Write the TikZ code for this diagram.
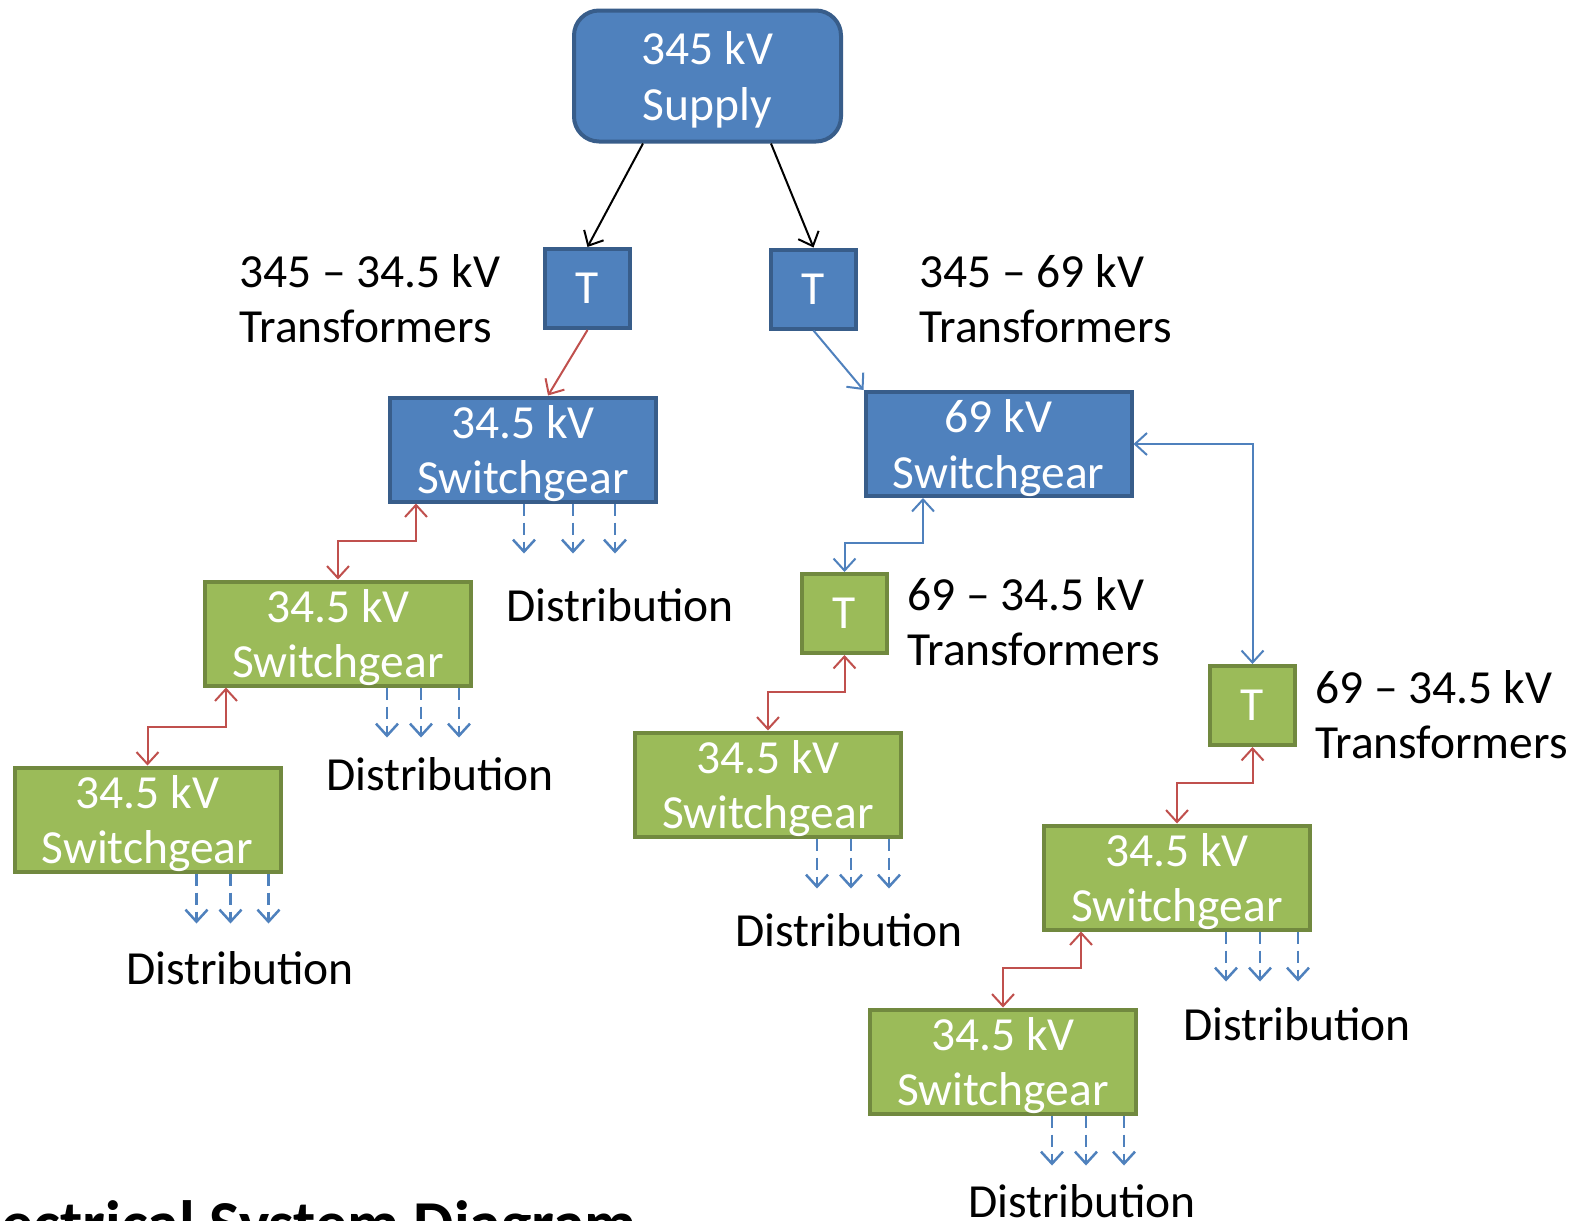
\documentclass[tikz,border=0pt]{standalone}
\usepackage{fontspec}
\setmainfont{Carlito}
\usetikzlibrary{arrows.meta,calc}
\definecolor{bfill}{HTML}{4F81BD}
\definecolor{bdraw}{HTML}{385D8A}
\definecolor{gfill}{HTML}{9BBB59}
\definecolor{gdraw}{HTML}{71893F}
\definecolor{redarr}{HTML}{C0504D}
\definecolor{bluearr}{HTML}{4F81BD}
\begin{document}
\begin{tikzpicture}[x=1pt,y=-1pt,
  >={Straight Barb[length=12pt,width=22pt]},
  bigfont/.style={font=\fontsize{47.5}{55.5}\selectfont},
  bbox/.style={draw=bdraw, fill=bfill, line width=4pt, text=white, bigfont, align=center, inner sep=0pt},
  gbox/.style={draw=gdraw, fill=gfill, line width=4pt, text=white, bigfont, align=center, inner sep=0pt},
  sgsize/.style={minimum width=266pt, minimum height=104pt, text depth=0pt},
  tsize/.style={minimum width=85pt, minimum height=79pt},
  lbl/.style={bigfont, align=left, anchor=base west, inner sep=0pt},
  dlbl/.style={bigfont, anchor=base, inner sep=0pt},
  conn/.style={line width=2pt},
  dist/.style={line width=2.5pt, draw=bluearr, dash pattern=on 12pt off 7pt, ->}
]
\useasboundingbox (0,0) rectangle (1591,1221);
\clip (0,0) rectangle (1591,1221);
\fill[white] (0,0) rectangle (1591,1221);

% nodes
\node[bbox, rounded corners=25pt, minimum width=267pt, minimum height=131pt, text depth=0pt] (sup) at (707.5,76) {345 kV\\Supply};
\node[bbox,tsize] (t1) at (587.5,288.5) {T};
\node[bbox,tsize] (t2) at (813.5,289) {T};
\node[bbox,sgsize] (sgb) at (523,449.5) {34.5 kV\\Switchgear};
\node[bbox,sgsize] (sg69) at (998.5,444) {69 kV\\Switchgear};
\node[gbox,sgsize] (g1) at (338,633.5) {34.5 kV\\Switchgear};
\node[gbox,sgsize] (g2) at (147.5,819.5) {34.5 kV\\Switchgear};
\node[gbox,tsize] (t3) at (844.5,613.5) {T};
\node[gbox,tsize] (t4) at (1252.5,705.5) {T};
\node[gbox,sgsize] (g3) at (768,784.5) {34.5 kV\\Switchgear};
\node[gbox,sgsize] (g4) at (1177,877.5) {34.5 kV\\Switchgear};
\node[gbox,sgsize] (g5) at (1003,1061.5) {34.5 kV\\Switchgear};

% labels (base anchor = last line's baseline)
\node[lbl] (l1) at (239,342.5) {345 – 34.5 kV\\Transformers};
\node[lbl] (l2) at (919,342.5) {345 – 69 kV\\Transformers};
\node[lbl] (l3) at (907,665.5) {69 – 34.5 kV\\Transformers};
\node[lbl] (l4) at (1315,758.5) {69 – 34.5 kV\\Transformers};

\node[dlbl] (d1) at (620,621) {Distribution};
\node[dlbl] (d2) at (440,790) {Distribution};
\node[dlbl] (d3) at (240,984) {Distribution};
\node[dlbl] (d4) at (849,946) {Distribution};
\node[dlbl] (d5) at (1297,1040) {Distribution};
\node[dlbl] (d6) at (1082,1217) {Distribution};

\node[font=\fontsize{64}{72}\selectfont\bfseries, anchor=base east, inner sep=0pt] (title) at (637,1245) {Electrical System Diagram};

% connectors
\draw[conn,->,black] ([xshift=-64.5pt]sup.south) -- (t1.north);
\draw[conn,->,black] ([xshift=63.5pt]sup.south) -- (t2.north);
\draw[conn,->,redarr] (t1.south) -- ([xshift=25pt]sgb.north);
\draw[conn,->,bluearr] (t2.south) -- (sg69.north west);
\draw[conn,<->,redarr] (g1.north) -- (g1.north |- 0,541) -| ([xshift=-107pt]sgb.south);
\draw[conn,<->,redarr] (g2.north) -- (g2.north |- 0,727) -| ([xshift=-112pt]g1.south);
\draw[conn,<->,bluearr] (t3.north) -- (t3.north |- 0,543) -| ([xshift=-75.5pt]sg69.south);
\draw[conn,<->,bluearr] (sg69.east) -| (t4.north);
\draw[conn,<->,redarr] (g3.north) -- (g3.north |- 0,692) -| (t3.south);
\draw[conn,<->,redarr] (g4.north) -- (g4.north |- 0,783) -| (t4.south);
\draw[conn,<->,redarr] (g5.north) -- (g5.north |- 0,968) -| ([xshift=-96pt]g4.south);

% distribution arrows
\foreach \dx in {1,50,92} \draw[dist] ([xshift=\dx pt]sgb.south) -- ++(0,50);
\foreach \n in {g1,g2,g3,g4,g5} {
  \foreach \dx in {49,83,121} \draw[dist] ([xshift=\dx pt]\n.south) -- ++(0,50);
}
\end{tikzpicture}
\end{document}
